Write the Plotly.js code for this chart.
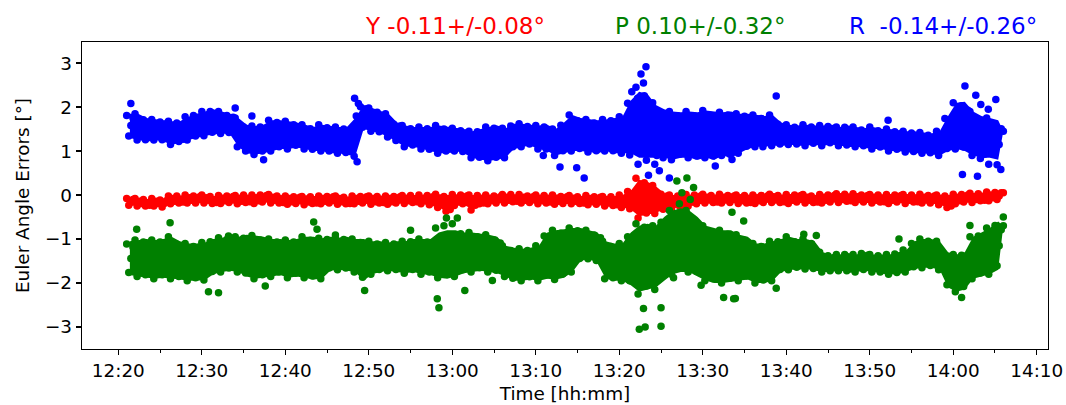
<!DOCTYPE html>
<html>
<head>
<meta charset="utf-8">
<script src="https://cdn.plot.ly/plotly-3.0.1.min.js"></script>
<style>html,body{margin:0;padding:0;background:#fff;}#chart{width:1066px;height:405px;}</style>
</head>
<body>
<div id="chart"></div>
<script>
// ---- Data (angles in degrees) ----
// Regular sampling clock: first sample 12:21:00, one sample every 15 s.
const sampleStartMin = 1;      // minutes after 12:20
const sampleStepMin = 0.25;

const seriesNames = ['Y', 'P', 'R'];
const titleTexts = ['Y -0.11+/-0.08°', 'P 0.10+/-0.32°', 'R\u00a0\u00a0-0.14+/-0.26°'];

const yawDeg = [
-0.08,-0.23,-0.16,-0.10, -0.08,-0.25,-0.14,-0.19, -0.10,-0.25,-0.18,-0.23, -0.08,-0.25,-0.14,-0.19, -0.11,-0.27,-0.19,-0.13,
-0.02,-0.20,-0.08,-0.14, -0.02,-0.18,-0.10,-0.16, 0.00,-0.18,-0.06,-0.12, -0.02,-0.18,-0.10,-0.04, 0.00,-0.18,-0.06,-0.12,
-0.03,-0.19,-0.11,-0.17, -0.01,-0.19,-0.07,-0.13, -0.02,-0.17,-0.10,-0.03, -0.01,-0.20,-0.07,-0.14, 0.00,-0.17,-0.09,-0.15,
0.00,-0.19,-0.06,-0.13, 0.00,-0.16,-0.08,-0.01, 0.01,-0.18,-0.05,-0.12, -0.02,-0.18,-0.10,-0.17, -0.02,-0.21,-0.08,-0.15,
-0.04,-0.19,-0.12,-0.05, -0.03,-0.22,-0.09,-0.16, -0.04,-0.19,-0.12,-0.18, -0.02,-0.20,-0.08,-0.14, -0.03,-0.18,-0.11,-0.04,
-0.02,-0.21,-0.08,-0.15, -0.05,-0.20,-0.13,-0.19, -0.02,-0.20,-0.08,-0.14, -0.03,-0.18,-0.11,-0.04, -0.02,-0.21,-0.08,-0.15,
-0.03,-0.18,-0.11,-0.17, -0.02,-0.21,-0.08,-0.15, -0.03,-0.18,-0.11,-0.04, -0.01,-0.19,-0.07,-0.13, -0.01,-0.17,-0.09,-0.15,
0.00,-0.20,-0.07,-0.13, -0.01,-0.22,-0.12,-0.03, 0.02,-0.28,-0.08,-0.18, -0.03,-0.37,-0.20,-0.33, 0.01,-0.24,-0.07,-0.16,
0.00,-0.20,-0.10,-0.02, 0.00,-0.34,-0.11,-0.23, -0.01,-0.20,-0.11,-0.18, 0.00,-0.20,-0.07,-0.13, -0.02,-0.18,-0.10,-0.04,
0.01,-0.18,-0.05,-0.12, 0.01,-0.15,-0.08,-0.14, 0.01,-0.18,-0.05,-0.12, -0.02,-0.17,-0.10,-0.03, 0.00,-0.20,-0.07,-0.13,
-0.01,-0.18,-0.10,-0.16, 0.00,-0.21,-0.07,-0.14, -0.03,-0.19,-0.11,-0.04, -0.01,-0.20,-0.07,-0.14, -0.04,-0.19,-0.12,-0.18,
-0.01,-0.22,-0.08,-0.15, -0.04,-0.21,-0.13,-0.05, -0.03,-0.25,-0.10,-0.18, -0.04,-0.24,-0.14,-0.22, 0.00,-0.28,-0.09,-0.19,
0.08,-0.31,-0.12,0.04, 0.38,-0.52,0.08,-0.22, 0.28,-0.41,-0.07,-0.34, 0.22,-0.42,0.01,-0.21, 0.02,-0.32,-0.15,-0.02,
0.00,-0.30,-0.10,-0.20, -0.02,-0.26,-0.14,-0.23, 0.01,-0.25,-0.08,-0.16, 0.00,-0.20,-0.10,-0.02, 0.02,-0.18,-0.05,-0.11,
-0.01,-0.17,-0.09,-0.16, 0.02,-0.18,-0.05,-0.11, -0.01,-0.17,-0.09,-0.02, 0.00,-0.19,-0.06,-0.13, -0.01,-0.18,-0.10,-0.17,
0.00,-0.19,-0.06,-0.13, -0.01,-0.17,-0.09,-0.02, 0.02,-0.17,-0.04,-0.11, -0.01,-0.17,-0.09,-0.15, 0.01,-0.19,-0.06,-0.12,
0.00,-0.16,-0.08,-0.01, 0.01,-0.18,-0.05,-0.12, -0.02,-0.17,-0.10,-0.16, 0.01,-0.18,-0.05,-0.12, 0.00,-0.16,-0.08,-0.01,
0.03,-0.17,-0.04,-0.10, 0.02,-0.14,-0.06,-0.13, 0.03,-0.17,-0.04,-0.10, 0.00,-0.16,-0.08,-0.01, 0.01,-0.18,-0.05,-0.12,
0.00,-0.16,-0.08,-0.15, 0.01,-0.19,-0.06,-0.12, 0.00,-0.16,-0.08,-0.01, 0.01,-0.19,-0.06,-0.12, 0.00,-0.16,-0.08,-0.15,
0.02,-0.18,-0.05,-0.11, -0.01,-0.18,-0.09,-0.02, 0.00,-0.22,-0.07,-0.15, -0.02,-0.28,-0.15,-0.25, 0.02,-0.20,-0.05,-0.13,
0.01,-0.16,-0.08,0.00, 0.04,-0.17,-0.03,-0.10, 0.03,-0.13,-0.05,-0.12, 0.07,-0.13,0.00,-0.06, 0.06,-0.10,-0.02,0.05,
0.05
];

const pitchDeg = [
-1.11,-1.76,-1.44,-1.18, -1.02,-1.85,-1.29,-1.58, -1.07,-1.81,-1.44,-1.73, -1.02,-1.90,-1.31,-1.61, -1.07,-1.81,-1.44,-1.15,
-0.95,-1.90,-1.26,-1.59, -1.12,-1.85,-1.49,-1.77, -1.10,-1.95,-1.38,-1.67, -1.17,-1.88,-1.53,-1.24, -1.08,-1.93,-1.36,-1.65,
-1.06,-1.74,-1.40,-1.66, -0.97,-1.75,-1.23,-1.49, -1.01,-1.66,-1.34,-1.08, -0.95,-1.75,-1.21,-1.49, -0.98,-1.77,-1.38,-1.69,
-0.92,-1.90,-1.24,-1.57, -1.02,-1.81,-1.42,-1.11, -1.00,-1.85,-1.28,-1.57, -1.07,-1.75,-1.41,-1.68, -1.02,-1.88,-1.30,-1.60,
-1.07,-1.78,-1.43,-1.14, -0.95,-1.88,-1.26,-1.57, -1.03,-1.84,-1.44,-1.76, -0.98,-1.90,-1.28,-1.60, -1.01,-1.66,-1.34,-1.08,
-0.97,-1.70,-1.21,-1.46, -1.01,-1.66,-1.34,-1.59, -1.00,-1.75,-1.25,-1.50, -1.08,-1.87,-1.48,-1.16, -1.05,-1.80,-1.30,-1.55,
-1.11,-1.69,-1.40,-1.63, -1.08,-1.72,-1.29,-1.51, -1.11,-1.69,-1.40,-1.17, -1.05,-1.78,-1.29,-1.54, -1.06,-1.69,-1.38,-1.62,
-1.00,-1.80,-1.26,-1.54, -1.07,-1.75,-1.41,-1.14, -0.75,-1.88,-1.12,-1.51, -0.70,-1.80,-1.25,-1.68, -0.65,-1.85,-1.05,-1.45,
-0.88,-1.70,-1.29,-0.97, -0.85,-1.75,-1.15,-1.45, -0.95,-1.65,-1.30,-1.58, -0.90,-1.75,-1.18,-1.47, -1.02,-1.71,-1.37,-1.09,
-1.15,-1.85,-1.38,-1.62, -1.26,-1.89,-1.58,-1.82, -1.22,-1.95,-1.46,-1.71, -1.26,-1.86,-1.56,-1.32, -1.15,-1.95,-1.41,-1.69,
-0.93,-1.82,-1.38,-1.72, -0.80,-1.92,-1.17,-1.55, -0.87,-1.79,-1.33,-0.97, -0.75,-1.75,-1.08,-1.42, -0.81,-1.44,-1.13,-1.37,
-0.80,-1.45,-1.01,-1.23, -0.91,-1.49,-1.20,-0.97, -1.05,-1.90,-1.33,-1.62, -1.17,-1.88,-1.53,-1.81, -1.10,-1.95,-1.38,-1.67,
-0.95,-1.95,-1.45,-1.05, -0.65,-2.25,-1.18,-1.72, -0.73,-2.07,-1.40,-1.93, -0.70,-2.15,-1.18,-1.67, -0.62,-1.83,-1.23,-0.75,
-0.35,-1.80,-0.83,-1.32, -0.42,-1.63,-1.03,-1.50, -0.35,-1.75,-0.82,-1.29, -0.61,-1.74,-1.18,-0.73, -0.70,-1.95,-1.12,-1.54,
-0.85,-1.90,-1.38,-1.79, -0.80,-2.00,-1.20,-1.60, -0.89,-1.89,-1.39,-1.00, -0.90,-1.95,-1.25,-1.60, -1.03,-1.84,-1.44,-1.76,
-1.10,-2.00,-1.40,-1.70, -1.17,-1.93,-1.55,-1.25, -1.05,-1.95,-1.35,-1.65, -1.06,-1.69,-1.38,-1.62, -0.95,-1.70,-1.20,-1.45,
-1.06,-1.64,-1.35,-1.12, -1.00,-1.68,-1.22,-1.45, -1.10,-1.67,-1.39,-1.61, -1.30,-1.75,-1.45,-1.60, -1.38,-1.72,-1.55,-1.42,
-1.35,-1.72,-1.47,-1.60, -1.35,-1.72,-1.54,-1.68, -1.35,-1.75,-1.48,-1.62, -1.33,-1.69,-1.51,-1.37, -1.35,-1.75,-1.48,-1.62,
-1.38,-1.75,-1.57,-1.71, -1.35,-1.80,-1.50,-1.65, -1.34,-1.76,-1.55,-1.39, -1.25,-1.75,-1.42,-1.58, -1.10,-1.63,-1.37,-1.57,
-1.00,-1.65,-1.21,-1.43, -1.05,-1.60,-1.33,-1.11, -1.05,-1.70,-1.27,-1.48, -1.36,-2.04,-1.70,-1.96, -1.35,-2.20,-1.63,-1.92,
-1.37,-2.08,-1.73,-1.44, -0.95,-1.90,-1.26,-1.59, -0.93,-1.77,-1.35,-1.68, -0.75,-1.80,-1.10,-1.45, -0.69,-1.61,-1.15,-0.79,
-0.70
];

const rollDeg = [
1.81,1.34,1.58,1.76, 1.85,1.25,1.65,1.45, 1.71,1.26,1.49,1.31, 1.72,1.25,1.56,1.41, 1.66,1.26,1.46,1.62,
1.68,1.15,1.51,1.32, 1.64,1.22,1.43,1.27, 1.78,1.25,1.61,1.42, 1.81,1.34,1.58,1.76, 1.90,1.35,1.72,1.53,
1.90,1.43,1.67,1.48, 1.90,1.40,1.74,1.57, 1.81,1.42,1.62,1.77, 1.75,1.10,1.54,1.31, 1.55,1.00,1.28,1.06,
1.57,0.92,1.36,1.13, 1.55,1.00,1.28,1.49, 1.70,1.00,1.47,1.23, 1.65,1.10,1.38,1.16, 1.68,1.05,1.47,1.26,
1.60,1.13,1.37,1.55, 1.60,1.05,1.42,1.23, 1.51,1.04,1.28,1.09, 1.60,1.00,1.40,1.20, 1.53,1.00,1.27,1.47,
1.55,0.95,1.35,1.15, 1.50,0.97,1.24,1.03, 1.45,0.88,1.80,2.08, 2.01,1.54,1.78,1.96, 1.98,1.45,1.81,1.63,
1.88,1.44,1.66,1.49, 1.85,1.32,1.68,1.50, 1.61,1.24,1.43,1.57, 1.58,1.10,1.42,1.26, 1.51,1.14,1.33,1.18,
1.55,1.05,1.39,1.22, 1.51,1.04,1.28,1.46, 1.58,0.95,1.37,1.16, 1.50,1.00,1.25,1.05, 1.52,1.00,1.35,1.17,
1.46,0.99,1.23,1.41, 1.45,0.85,1.25,1.05, 1.44,0.86,1.15,0.92, 1.55,0.78,1.30,1.03, 1.52,0.86,1.19,1.45,
1.52,0.85,1.30,1.07, 1.57,1.10,1.34,1.15, 1.62,1.10,1.45,1.27, 1.56,1.16,1.36,1.52, 1.58,1.05,1.41,1.22,
1.55,1.05,1.30,1.10, 1.50,0.90,1.30,1.10, 1.59,1.01,1.30,1.53, 1.82,1.00,1.55,1.27, 1.69,1.06,1.38,1.13,
1.72,0.98,1.48,1.22, 1.64,1.01,1.33,1.57, 1.72,1.00,1.48,1.24, 1.69,1.01,1.35,1.09, 1.78,0.95,1.51,1.22,
2.09,0.91,1.50,1.96, 2.45,0.70,1.87,1.28, 2.26,0.79,1.53,0.95, 2.10,0.70,1.64,1.16, 1.85,0.85,1.35,1.75,
1.90,0.80,1.54,1.16, 1.80,0.93,1.37,1.03, 1.90,0.85,1.55,1.20, 1.79,0.89,1.34,1.70, 1.92,0.85,1.57,1.20,
1.81,0.89,1.35,0.99, 1.88,0.90,1.56,1.22, 1.82,0.93,1.38,1.72, 1.85,0.95,1.55,1.25, 1.79,1.11,1.45,1.19,
1.82,1.10,1.58,1.34, 1.74,1.16,1.45,1.68, 1.82,1.12,1.59,1.35, 1.61,1.16,1.39,1.21, 1.60,1.15,1.45,1.30,
1.54,1.16,1.35,1.50, 1.60,1.12,1.44,1.28, 1.55,1.18,1.37,1.22, 1.58,1.12,1.43,1.27, 1.56,1.19,1.38,1.52,
1.55,1.12,1.41,1.26, 1.54,1.14,1.34,1.18, 1.55,1.10,1.40,1.25, 1.48,1.12,1.30,1.45, 1.55,1.05,1.39,1.22,
1.46,1.09,1.28,1.13, 1.50,1.00,1.34,1.17, 1.44,1.04,1.24,1.40, 1.45,0.98,1.29,1.14, 1.41,0.99,1.20,1.04,
1.42,0.95,1.26,1.11, 1.36,0.96,1.16,1.32, 1.45,0.90,1.27,1.08, 1.74,1.06,1.40,1.14, 2.10,1.05,1.75,1.40,
2.03,1.09,1.56,1.93, 1.90,0.90,1.57,1.23, 1.72,0.83,1.28,0.93, 1.75,0.70,1.40,1.05, 1.61,0.69,1.15,1.51,
1.45
];

// Dense core of each point cloud, one value per minute (12:21 ... 14:06)
const yawCoreHi = [
-0.07,-0.08,-0.09,-0.08,-0.10,-0.02,-0.01,0.00,-0.01,0.00,
-0.02,-0.01,0.00,-0.01,0.01,0.00,0.02,0.01,0.00,-0.02,
-0.02,-0.03,-0.02,-0.02,-0.01,-0.02,-0.03,-0.02,-0.01,-0.02,
-0.01,-0.02,-0.01,-0.01,0.00,0.00,0.01,0.02,0.00,0.01,
0.02,0.00,0.01,0.00,-0.01,0.01,0.02,0.01,0.00,0.00,
0.01,0.00,-0.01,-0.01,-0.02,-0.01,-0.02,-0.03,-0.02,0.00,
0.10,0.35,0.30,0.20,0.04,0.00,0.00,0.01,0.02,0.02,
0.01,0.02,0.01,0.00,0.01,0.00,0.01,0.02,0.01,0.01,
0.02,0.01,0.00,0.01,0.02,0.03,0.04,0.03,0.02,0.01,
0.02,0.01,0.02,0.01,0.02,0.02,0.01,0.00,0.00,0.02,
0.03,0.04,0.05,0.07,0.08,0.05
];
const yawCoreLo = [
-0.24,-0.25,-0.26,-0.25,-0.28,-0.20,-0.19,-0.18,-0.19,-0.18,
-0.20,-0.19,-0.19,-0.20,-0.18,-0.19,-0.17,-0.18,-0.20,-0.21,
-0.21,-0.22,-0.21,-0.20,-0.20,-0.21,-0.22,-0.20,-0.20,-0.21,
-0.20,-0.21,-0.20,-0.19,-0.18,-0.20,-0.24,-0.28,-0.38,-0.24,
-0.22,-0.32,-0.22,-0.20,-0.19,-0.18,-0.17,-0.18,-0.19,-0.20,
-0.20,-0.21,-0.21,-0.20,-0.21,-0.22,-0.23,-0.25,-0.26,-0.28,
-0.33,-0.48,-0.45,-0.40,-0.33,-0.30,-0.28,-0.25,-0.22,-0.18,
-0.19,-0.18,-0.18,-0.19,-0.20,-0.19,-0.18,-0.17,-0.18,-0.19,
-0.18,-0.18,-0.19,-0.18,-0.17,-0.17,-0.16,-0.17,-0.18,-0.18,
-0.18,-0.19,-0.18,-0.19,-0.18,-0.18,-0.19,-0.22,-0.28,-0.20,
-0.18,-0.17,-0.15,-0.13,-0.12,0.05
];
const pitchCoreHi = [
-1.05,-1.02,-1.00,-1.02,-1.00,-0.95,-1.05,-1.10,-1.10,-1.08,
-1.00,-0.97,-0.95,-0.95,-0.90,-0.92,-0.95,-1.00,-1.00,-1.02,
-1.00,-0.95,-0.95,-0.98,-0.95,-0.97,-0.95,-1.00,-1.00,-1.05,
-1.05,-1.08,-1.05,-1.05,-1.00,-1.00,-1.00,-0.85,-0.80,-0.80,
-0.85,-0.85,-0.88,-0.90,-0.95,-1.15,-1.20,-1.22,-1.20,-1.15,
-0.85,-0.80,-0.78,-0.75,-0.75,-0.80,-0.85,-1.05,-1.10,-1.10,
-0.85,-0.70,-0.65,-0.70,-0.50,-0.35,-0.30,-0.35,-0.50,-0.70,
-0.75,-0.80,-0.80,-0.90,-0.95,-1.10,-1.10,-1.05,-1.00,-0.95,
-1.00,-1.00,-1.05,-1.30,-1.35,-1.35,-1.32,-1.35,-1.30,-1.35,
-1.35,-1.35,-1.30,-1.25,-1.05,-1.00,-1.00,-1.05,-1.30,-1.35,
-1.30,-0.95,-0.85,-0.75,-0.60,-0.70
];
const pitchCoreLo = [
-1.82,-1.85,-1.88,-1.90,-1.88,-1.90,-1.92,-1.95,-1.95,-1.93,
-1.80,-1.75,-1.72,-1.75,-1.85,-1.90,-1.88,-1.85,-1.82,-1.88,
-1.85,-1.88,-1.92,-1.90,-1.72,-1.70,-1.72,-1.75,-1.95,-1.80,
-1.75,-1.72,-1.75,-1.78,-1.75,-1.80,-1.82,-1.88,-1.90,-1.85,
-1.78,-1.75,-1.72,-1.75,-1.78,-1.85,-1.95,-1.95,-1.92,-1.95,
-1.90,-1.92,-1.88,-1.75,-1.50,-1.45,-1.55,-1.90,-1.95,-1.95,
-2.05,-2.20,-2.15,-2.10,-1.95,-1.80,-1.75,-1.75,-1.85,-1.95,
-2.00,-2.00,-1.98,-1.95,-1.92,-2.00,-2.00,-1.95,-1.75,-1.70,
-1.70,-1.68,-1.72,-1.75,-1.75,-1.72,-1.75,-1.75,-1.72,-1.75,
-1.78,-1.80,-1.80,-1.75,-1.68,-1.65,-1.65,-1.70,-2.10,-2.20,
-2.15,-1.90,-1.85,-1.80,-1.70,-0.70
];
const rollCoreHi = [
1.85,1.85,1.75,1.72,1.70,1.68,1.68,1.78,1.85,1.90,
1.95,1.90,1.85,1.75,1.60,1.57,1.60,1.70,1.70,1.68,
1.65,1.60,1.55,1.60,1.58,1.55,1.55,1.75,2.05,1.98,
1.92,1.85,1.65,1.58,1.55,1.55,1.55,1.58,1.55,1.52,
1.50,1.45,1.50,1.55,1.58,1.52,1.62,1.62,1.60,1.58,
1.60,1.50,1.65,1.82,1.75,1.72,1.70,1.72,1.75,1.78,
2.15,2.35,2.30,2.05,1.95,1.90,1.88,1.90,1.88,1.92,
1.90,1.88,1.90,1.85,1.85,1.82,1.80,1.82,1.65,1.60,
1.58,1.60,1.58,1.58,1.60,1.55,1.58,1.55,1.52,1.55,
1.50,1.50,1.48,1.45,1.45,1.42,1.40,1.45,1.80,2.10,
2.12,1.90,1.80,1.75,1.70,1.45
];
const rollCoreLo = [
1.30,1.25,1.22,1.25,1.22,1.15,1.18,1.25,1.30,1.35,
1.38,1.40,1.38,1.10,0.95,0.92,0.95,1.00,1.05,1.05,
1.08,1.05,1.00,1.00,0.95,0.95,0.92,0.88,1.50,1.45,
1.40,1.32,1.20,1.10,1.10,1.05,1.00,0.95,0.95,1.00,
0.95,0.85,0.80,0.78,0.80,0.85,1.05,1.10,1.12,1.05,
1.00,0.90,0.95,1.00,1.00,0.98,0.95,1.00,0.95,0.95,
0.95,0.85,0.85,0.85,0.85,0.80,0.85,0.85,0.80,0.85,
0.80,0.90,0.85,0.95,1.05,1.10,1.10,1.12,1.12,1.15,
1.12,1.12,1.15,1.12,1.15,1.12,1.10,1.10,1.08,1.05,
1.05,1.00,1.00,0.98,0.95,0.95,0.92,0.90,1.00,1.05,
1.00,0.90,0.85,0.85,0.80,1.45
];

// Isolated / scattered points (minutes after 12:20, degrees)
const rollOutMin = [1.5, 14.0, 16.0, 17.4, 28.3, 28.6, 50.9, 52.9, 54.9, 55.8, 61.5, 62.0, 62.2, 62.6, 62.8, 62.9, 63.0, 63.2, 63.3, 63.5, 63.8, 64.3, 64.5, 64.8, 65.3, 66.0, 71.5, 73.5, 77.2, 78.8, 92.2, 100.4, 101.1, 101.4, 102.7, 102.9, 103.3, 104.2, 105.1, 105.7];
const rollOutDeg = [2.08, 1.98, 1.80, 0.80, 2.20, 0.76, 0.90, 0.64, 0.62, 0.39, 2.35, 1.05, 2.20, 2.75, 1.60, 2.55, 1.40, 2.92, 2.10, 0.45, 1.00, 1.90, 0.90, 0.55, 1.40, 0.39, 0.66, 0.81, 1.10, 2.25, 1.70, 1.60, 0.47, 2.48, 2.27, 0.43, 2.06, 1.95, 2.17, 0.58];

const pitchOutMin = [2.2, 6.2, 10.8, 12.0, 13.2, 17.6, 23.4, 23.8, 26.0, 29.5, 35.0, 38.2, 38.4, 39.3, 40.6, 41.5, 44.8, 61.7, 62.2, 62.4, 62.7, 62.9, 63.1, 63.4, 64.2, 64.7, 65.0, 65.0, 65.7, 66.3, 66.5, 66.9, 67.2, 67.5, 67.6, 67.9, 68.1, 68.3, 68.5, 68.9, 69.8, 72.5, 73.5, 73.7, 73.9, 74.9, 78.8, 82.1, 83.6, 93.5, 101.0, 102.0, 106.0];
const pitchOutDeg = [-0.78, -0.63, -2.20, -2.22, -0.93, -2.07, -0.61, -0.78, -0.91, -2.17, -0.80, -2.36, -2.56, -0.52, -0.52, -2.17, -1.94, -1.70, -1.45, -3.05, -2.00, -2.58, -3.00, -0.95, -1.95, -1.45, -2.98, -2.56, -1.10, -0.60, -1.88, 0.32, -0.20, 0.05, -1.50, -0.60, 0.39, -1.05, -0.10, 0.17, -2.05, -2.33, -0.39, -2.36, -2.35, -0.59, -2.12, -0.89, -0.92, -1.00, -2.33, -0.69, -0.50];

const seriesColors = ['#ff0000', '#008000', '#0000ff'];

// ---- Helpers ----
function pad(n) { return (n < 10 ? '0' : '') + n; }
function stamp(minAfter1220) {
  const s = Math.round((12 * 3600 + 20 * 60) + minAfter1220 * 60);
  const h = Math.floor(s / 3600), m = Math.floor((s % 3600) / 60), sec = s % 60;
  return '2020-01-01 ' + pad(h) + ':' + pad(m) + ':' + pad(sec);
}
function sampleTimes(n) {
  const out = [];
  for (let i = 0; i < n; i++) out.push(stamp(sampleStartMin + i * sampleStepMin));
  return out;
}
// one core value per minute, placed in the middle of that minute's samples
function coreTimesMin(n, lastMin) {
  const out = [];
  for (let i = 0; i < n; i++) out.push(Math.min(sampleStartMin + i + 0.375, lastMin));
  return out;
}

const FONT = 'DejaVu Sans, Liberation Sans, sans-serif';
const MS = 7.5;

function sc(x, y, color) {
  return {
    type: 'scatter', mode: 'markers', x: x, y: y, showlegend: false, hoverinfo: 'skip',
    marker: { color: color, size: MS, line: { width: 0 } }
  };
}
function core(hi, lo, color, nSamples) {
  const lastMin = sampleStartMin + (nSamples - 1) * sampleStepMin;
  const tm = coreTimesMin(hi.length, lastMin);
  const x = tm.map(stamp).concat(tm.slice().reverse().map(stamp));
  const y = hi.concat(lo.slice().reverse());
  return {
    type: 'scatter', mode: 'lines', x: x, y: y, fill: 'toself', fillcolor: color,
    line: { width: 0, color: color }, showlegend: false, hoverinfo: 'skip'
  };
}

const traces = [
  core(yawCoreHi, yawCoreLo, seriesColors[0], yawDeg.length),
  sc(sampleTimes(yawDeg.length), yawDeg, seriesColors[0]),
  core(pitchCoreHi, pitchCoreLo, seriesColors[1], pitchDeg.length),
  sc(sampleTimes(pitchDeg.length), pitchDeg, seriesColors[1]),
  sc(pitchOutMin.map(stamp), pitchOutDeg, seriesColors[1]),
  core(rollCoreHi, rollCoreLo, seriesColors[2], rollDeg.length),
  sc(sampleTimes(rollDeg.length), rollDeg, seriesColors[2]),
  sc(rollOutMin.map(stamp), rollOutDeg, seriesColors[2])
];

const titleX = [0.3861, 0.6398, 0.8913];
const annotations = titleTexts.map((t, i) => ({
  text: t, xref: 'paper', yref: 'paper', x: titleX[i], y: 1.052,
  xanchor: 'center', yanchor: 'middle', showarrow: false,
  font: { family: FONT, size: 23, color: seriesColors[i] }
}));

const layout = {
  width: 1066, height: 405,
  margin: { l: 82, r: 18, t: 42, b: 56, pad: 0 },
  paper_bgcolor: '#ffffff', plot_bgcolor: '#ffffff',
  font: { family: FONT, size: 18.4, color: '#000000' },
  showlegend: false,
  xaxis: {
    type: 'date',
    range: [stamp(-4.35), stamp(111.35)],
    tick0: '2020-01-01 12:00:00', dtick: 600000, tickformat: '%H:%M',
    ticks: 'outside', ticklen: 5, tickwidth: 1.25, tickcolor: '#000',
    minor: { tick0: '2020-01-01 12:00:00', dtick: 300000, ticks: 'outside', ticklen: 3, tickwidth: 1, tickcolor: '#000', showgrid: false },
    showline: true, mirror: true, linecolor: '#000', linewidth: 1.3,
    showgrid: false, zeroline: false,
    tickfont: { family: FONT, size: 18.4, color: '#000' },
    title: { text: 'Time [hh:mm]', font: { family: FONT, size: 18.4, color: '#000' }, standoff: 6 }
  },
  yaxis: {
    range: [-3.5, 3.48], tick0: 0, dtick: 1,
    ticks: 'outside', ticklen: 5, tickwidth: 1.25, tickcolor: '#000',
    showline: true, mirror: true, linecolor: '#000', linewidth: 1.3,
    showgrid: false, zeroline: false,
    tickfont: { family: FONT, size: 18.4, color: '#000' },
    title: { text: 'Euler Angle Errors [°]', font: { family: FONT, size: 18.4, color: '#000' }, standoff: 10 }
  },
  annotations: annotations
};

Plotly.newPlot('chart', traces, layout, { staticPlot: true, displayModeBar: false });
</script>
</body>
</html>
